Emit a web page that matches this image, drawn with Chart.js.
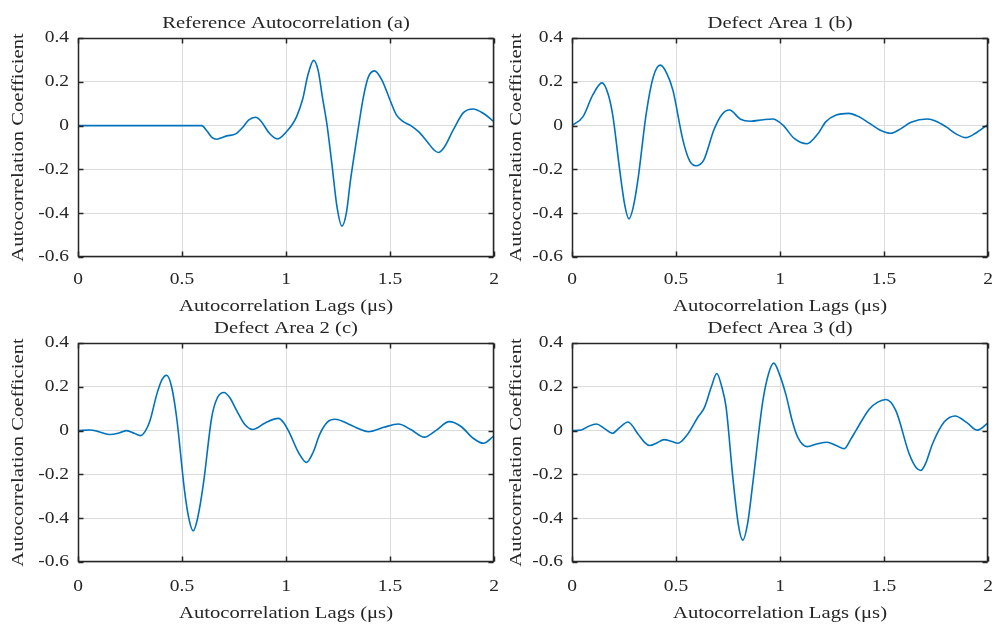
<!DOCTYPE html>
<html>
<head>
<meta charset="utf-8">
<script src="https://cdn.jsdelivr.net/npm/chart.js@4/dist/chart.umd.min.js"></script>
<style>
  html, body { margin: 0; padding: 0; background: #ffffff; }
  body { width: 994px; height: 624px; position: relative; overflow: hidden; }
  canvas { position: absolute; }
</style>
</head>
<body>
<canvas id="ca" width="500" height="320" style="left:0px;top:0px;"></canvas>
<canvas id="cb" width="500" height="320" style="left:494px;top:0px;"></canvas>
<canvas id="cc" width="500" height="319" style="left:0px;top:305px;"></canvas>
<canvas id="cd" width="500" height="319" style="left:494px;top:305px;"></canvas>
<script>
// ---- data (lag in µs, autocorrelation coefficient) ----
const titles = ["Reference Autocorrelation (a)", "Defect Area 1 (b)", "Defect Area 2 (c)", "Defect Area 3 (d)"];
const xTicks = [0, 0.5, 1, 1.5, 2];
const yTicks = [-0.6, -0.4, -0.2, 0, 0.2, 0.4];
const xTitle = "Autocorrelation Lags (\u03bcs)";
const yTitle = "Autocorrelation Coefficient";

const lagsA = [0, 0.595, 0.62, 0.645, 0.667, 0.69, 0.715, 0.758, 0.79, 0.82, 0.854, 0.88, 0.92, 0.958, 0.98, 1.003, 1.03, 1.051, 1.08, 1.105, 1.133, 1.155, 1.175, 1.196, 1.22, 1.245, 1.269, 1.29, 1.31, 1.34, 1.37, 1.395, 1.425, 1.46, 1.5, 1.53, 1.56, 1.6, 1.64, 1.68, 1.71, 1.732, 1.76, 1.804, 1.853, 1.9, 1.95, 2];
const valsA = [0, 0, -0.025, -0.055, -0.062, -0.055, -0.047, -0.038, -0.01, 0.025, 0.038, 0.02, -0.035, -0.061, -0.05, -0.027, 0.005, 0.041, 0.12, 0.23, 0.298, 0.25, 0.13, 0.011, -0.17, -0.37, -0.459, -0.40, -0.25, -0.06, 0.12, 0.22, 0.25, 0.21, 0.117, 0.05, 0.02, 0.0, -0.03, -0.075, -0.11, -0.123, -0.1, -0.02, 0.059, 0.076, 0.055, 0.018];

const lagsB = [0, 0.053, 0.1, 0.144, 0.175, 0.197, 0.229, 0.255, 0.274, 0.295, 0.317, 0.357, 0.39, 0.424, 0.455, 0.485, 0.533, 0.565, 0.595, 0.634, 0.682, 0.72, 0.757, 0.81, 0.858, 0.92, 0.965, 1.013, 1.07, 1.13, 1.18, 1.221, 1.27, 1.33, 1.38, 1.429, 1.48, 1.533, 1.58, 1.63, 1.709, 1.75, 1.797, 1.85, 1.893, 1.94, 2];
const valsB = [0, 0.041, 0.14, 0.195, 0.14, 0.041, -0.2, -0.37, -0.426, -0.37, -0.247, 0.056, 0.22, 0.276, 0.24, 0.162, -0.065, -0.16, -0.183, -0.156, -0.02, 0.05, 0.071, 0.029, 0.02, 0.027, 0.03, 0.003, -0.06, -0.083, -0.04, 0.018, 0.048, 0.056, 0.04, 0.011, -0.02, -0.035, -0.015, 0.015, 0.03, 0.02, -0.005, -0.04, -0.055, -0.035, 0.006];

const lagsC = [0, 0.058, 0.1, 0.154, 0.2, 0.234, 0.27, 0.301, 0.325, 0.346, 0.38, 0.405, 0.426, 0.45, 0.474, 0.514, 0.535, 0.554, 0.575, 0.603, 0.643, 0.67, 0.702, 0.73, 0.763, 0.8, 0.84, 0.9, 0.963, 0.99, 1.019, 1.06, 1.099, 1.13, 1.163, 1.2, 1.236, 1.308, 1.35, 1.396, 1.47, 1.54, 1.6, 1.665, 1.72, 1.785, 1.84, 1.9, 1.949, 2];
const valsC = [0, 0.003, -0.005, -0.018, -0.01, 0, -0.012, -0.023, 0.0, 0.045, 0.17, 0.235, 0.253, 0.2, 0.061, -0.288, -0.41, -0.458, -0.4, -0.242, 0.061, 0.15, 0.174, 0.15, 0.091, 0.03, 0.005, 0.035, 0.056, 0.035, -0.015, -0.1, -0.145, -0.1, -0.015, 0.04, 0.052, 0.027, 0.008, -0.005, 0.015, 0.03, 0.005, -0.03, 0.0, 0.041, 0.02, -0.035, -0.058, -0.024];

const lagsD = [0, 0.045, 0.08, 0.117, 0.155, 0.194, 0.23, 0.269, 0.317, 0.35, 0.373, 0.41, 0.442, 0.48, 0.509, 0.557, 0.605, 0.637, 0.67, 0.696, 0.72, 0.741, 0.773, 0.8, 0.821, 0.845, 0.869, 0.917, 0.945, 0.97, 1.0, 1.029, 1.06, 1.085, 1.13, 1.18, 1.226, 1.27, 1.309, 1.34, 1.365, 1.429, 1.47, 1.509, 1.557, 1.621, 1.655, 1.677, 1.7, 1.733, 1.79, 1.842, 1.9, 1.949, 2];
const valsD = [0, 0.003, 0.02, 0.03, 0.01, -0.012, 0.015, 0.039, -0.015, -0.055, -0.068, -0.055, -0.041, -0.05, -0.058, -0.015, 0.061, 0.106, 0.2, 0.261, 0.2, 0.106, -0.212, -0.43, -0.5, -0.42, -0.242, 0.132, 0.26, 0.308, 0.25, 0.162, 0.04, -0.03, -0.073, -0.06, -0.053, -0.068, -0.083, -0.04, 0, 0.098, 0.13, 0.142, 0.091, -0.106, -0.17, -0.182, -0.15, -0.061, 0.04, 0.067, 0.035, 0.002, 0.035];

// ---- styling ----
const LINE_COLOR = '#0072BD';
const AXIS_COLOR = '#262626';
const GRID_COLOR = '#dcdcdc';
const FONT = "'Liberation Serif', 'Times New Roman', serif";
const TEXT_STRETCH = 1.18;   // glyphs in the reference are wider than Liberation Serif

// widen text glyphs along their writing direction
const stretchPlugin = {
  id: 'stretchText',
  beforeDraw(chart) {
    const ctx = chart.ctx;
    if (ctx.__stretched) return;
    const orig = ctx.fillText;
    ctx.fillText = function (text, x, y) {
      this.save();
      this.translate(x, y);
      this.scale(TEXT_STRETCH, 1);
      orig.call(this, text, 0, 0);
      this.restore();
    };
    ctx.__stretched = true;
  }
};

const boxPlugin = {
  id: 'matlabBox',
  afterDraw(chart) {
    const { ctx, chartArea: a, scales } = chart;
    ctx.save();
    ctx.strokeStyle = AXIS_COLOR;
    ctx.lineWidth = 1.5;
    const L = Math.round(a.left) + 0.5, R = Math.round(a.right) - 0.5;
    const T = Math.round(a.top) + 0.5, B = Math.round(a.bottom) - 0.5;
    ctx.strokeRect(L, T, R - L, B - T);
    const tl = 5;
    ctx.beginPath();
    scales.x.ticks.forEach(t => {
      const px = Math.round(scales.x.getPixelForValue(t.value)) + 0.5;
      ctx.moveTo(px, B); ctx.lineTo(px, B - tl);
      ctx.moveTo(px, T); ctx.lineTo(px, T + tl);
    });
    scales.y.ticks.forEach(t => {
      const py = Math.round(scales.y.getPixelForValue(t.value)) + 0.5;
      ctx.moveTo(L, py); ctx.lineTo(L + tl, py);
      ctx.moveTo(R, py); ctx.lineTo(R - tl, py);
    });
    ctx.stroke();
    ctx.restore();
  }
};

function fmt(v) {
  const r = Math.round(v * 10) / 10;
  return r === 0 ? '0' : String(r);
}

function makeChart(id, title, lags, vals, xH, tickPad, xTitleBottom, yTitlePad) {
  const data = lags.map((x, i) => ({ x: x, y: vals[i] }));
  new Chart(document.getElementById(id), {
    type: 'line',
    data: { datasets: [{
      data: data,
      borderColor: LINE_COLOR,
      borderWidth: 1.6,
      pointRadius: 0,
      fill: false,
      cubicInterpolationMode: 'monotone'
    }] },
    options: {
      responsive: false,
      animation: false,
      devicePixelRatio: 1,
      layout: { padding: { left: 0, right: 6, top: 0, bottom: 0 } },
      plugins: {
        legend: { display: false },
        tooltip: { enabled: false },
        title: {
          display: true,
          fullSize: false,
          text: title,
          color: AXIS_COLOR,
          font: { family: FONT, size: 17.5, weight: 'normal' },
          padding: { top: 12.5, bottom: 4.5 }
        }
      },
      scales: {
        x: {
          type: 'linear',
          min: 0, max: 2,
          afterBuildTicks: s => { s.ticks = xTicks.map(v => ({ value: v })); },
          afterFit: s => { s.height = xH; s.paddingLeft = 0; s.paddingRight = 0; },
          ticks: { color: AXIS_COLOR, font: { family: FONT, size: 16.5 }, padding: tickPad, maxRotation: 0, autoSkip: false, callback: v => fmt(v) },
          grid: { color: GRID_COLOR, lineWidth: 1, drawTicks: false },
          border: { display: false },
          title: { display: true, text: xTitle, color: AXIS_COLOR, font: { family: FONT, size: 17.5 }, padding: { top: 0, bottom: xTitleBottom } }
        },
        y: {
          type: 'linear',
          min: -0.6, max: 0.4,
          afterBuildTicks: s => { s.ticks = yTicks.map(v => ({ value: v })); },
          afterFit: s => { s.width = 78; s.paddingTop = 0; s.paddingBottom = 0; },
          ticks: { color: AXIS_COLOR, font: { family: FONT, size: 16.5 }, padding: 9, autoSkip: false, callback: v => fmt(v) },
          grid: { color: GRID_COLOR, lineWidth: 1, drawTicks: false },
          border: { display: false },
          title: { display: true, text: yTitle, color: AXIS_COLOR, font: { family: FONT, size: 17.5 }, padding: { top: yTitlePad, bottom: 0 } }
        }
      }
    },
    plugins: [stretchPlugin, boxPlugin]
  });
}

makeChart('ca', titles[0], lagsA, valsA, 63, 12.5, 3.5, 7.8);
makeChart('cb', titles[1], lagsB, valsB, 63, 12.5, 3.5, 12.2);
makeChart('cc', titles[2], lagsC, valsC, 62, 14.5, 0.5, 7.8);
makeChart('cd', titles[3], lagsD, valsD, 62, 14.5, 0.5, 12.2);
</script>
</body>
</html>
